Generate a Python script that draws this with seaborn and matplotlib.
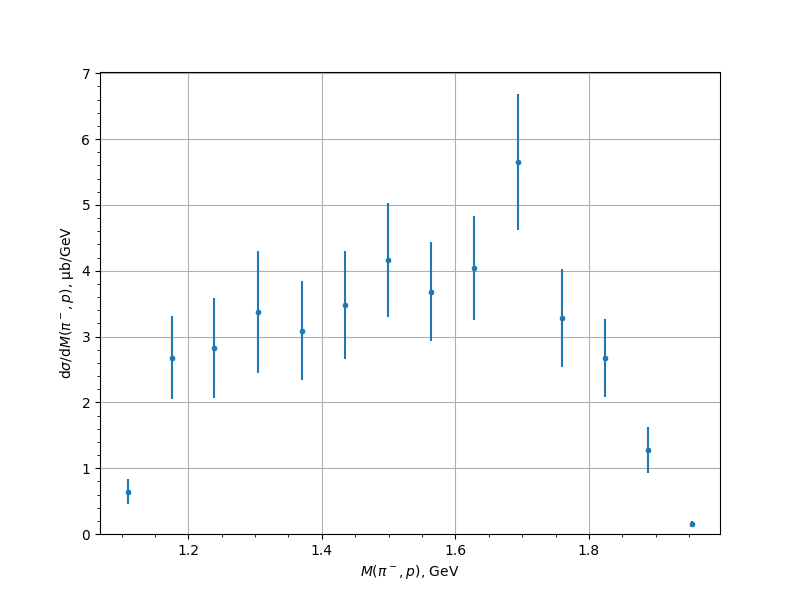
import matplotlib
matplotlib.use("Agg")
from matplotlib import pyplot as plt
import numpy as np
import seaborn as sn

# invariant mass bins (GeV) and cross section (mub/GeV)
mass = [1.110, 1.176, 1.239, 1.305, 1.370, 1.434, 1.499, 1.564, 1.628, 1.693, 1.760, 1.824, 1.888, 1.954]
xsec = [0.64, 2.68, 2.82, 3.37, 3.09, 3.48, 4.16, 3.68, 4.04, 5.65, 3.28, 2.67, 1.27, 0.15]
xsec_err = [0.19, 0.63, 0.76, 0.93, 0.75, 0.82, 0.87, 0.75, 0.79, 1.03, 0.75, 0.59, 0.35, 0.05]

fig, ax = plt.subplots(figsize=(8, 6), dpi=100)

ax.errorbar(mass, xsec, yerr=xsec_err, fmt='.', color='#1f77b4', ecolor='#1f77b4', zorder=3)
sn.scatterplot(x=mass, y=xsec, ax=ax, color='#1f77b4', s=14, linewidth=0, zorder=4)

ax.set_ylim(0, 7.02)
ax.minorticks_on()
ax.grid(True, which='major')

ax.set_xlabel(r'$M(\pi^-, p)$, GeV')
ax.set_ylabel(r'd$\sigma$/d$M(\pi^-, p)$, μb/GeV')

plt.savefig("out.png")
plt.close()
